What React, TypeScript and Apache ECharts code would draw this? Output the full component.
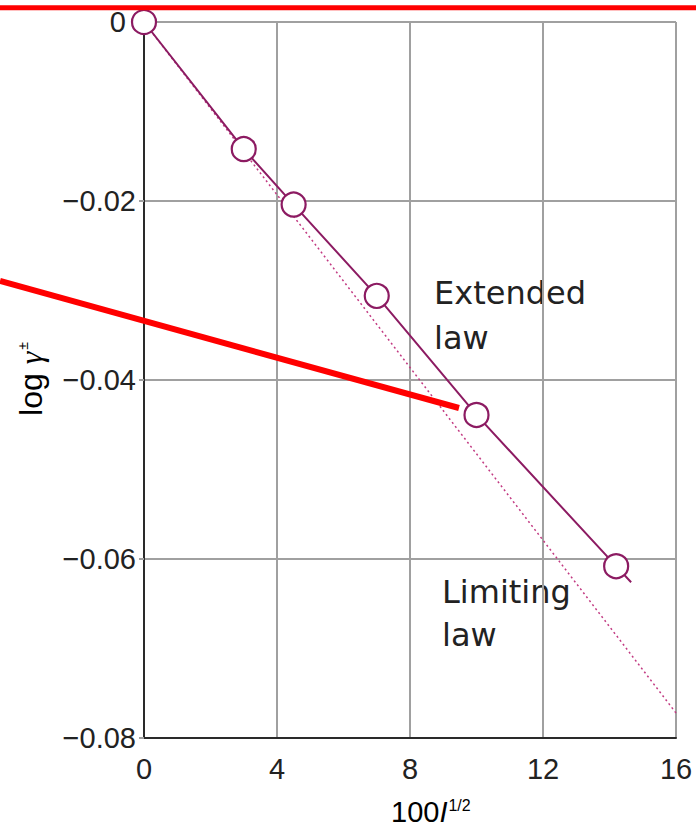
import React, { useEffect, useRef } from "react";
import * as echarts from "echarts";

// Data
const extendedX = [0, 3.0, 4.5, 7.0, 10.0, 14.2];
const extendedY = [0, -0.0142, -0.0204, -0.0306, -0.0439, -0.0608];
const extendedTail = [14.65, -0.0626];
const limitingX = [0, 16];
const limitingY = [0, -0.0772];
const xTicks = [0, 4, 8, 12, 16];
const yTicks = [0, -0.02, -0.04, -0.06, -0.08];

const PURPLE = "#8c1b62";
const PINK = "#c23a82";

export default function App() {
  const ref = useRef<HTMLDivElement>(null);
  useEffect(() => {
    if (!ref.current) return;
    const chart = echarts.init(ref.current, undefined, { renderer: "svg" });
    const extData: any[] = extendedX.map((x, i) => [x, extendedY[i]]);
    extData.push({ value: extendedTail, symbol: "none" });
    const option: any = {
      animation: false,
      backgroundColor: "#ffffff",
      grid: { left: 144, right: 20, top: 22, bottom: 89, containLabel: false },
      xAxis: {
        type: "value",
        min: xTicks[0],
        max: xTicks[xTicks.length - 1],
        interval: 4,
        axisLine: { show: true, onZero: false, lineStyle: { color: "#2a2a2a", width: 2 } },
        axisTick: { show: false },
        splitLine: { show: true, lineStyle: { color: "#a0a0a0", width: 2 } },
        axisLabel: {
          margin: 16,
          fontSize: 29,
          fontFamily: "Liberation Sans",
          color: "#222",
          formatter: (v: number) => String(v),
        },
      },
      yAxis: {
        type: "value",
        min: yTicks[yTicks.length - 1],
        max: yTicks[0],
        interval: 0.02,
        axisLine: { show: true, onZero: false, lineStyle: { color: "#2a2a2a", width: 2 } },
        axisTick: { show: true, length: 5, lineStyle: { color: "#a0a0a0", width: 2 } },
        splitLine: { show: true, lineStyle: { color: "#a0a0a0", width: 2 } },
        axisLabel: {
          margin: 8,
          fontSize: 29,
          fontFamily: "Liberation Sans",
          color: "#222",
          formatter: (v: number) =>
            Math.abs(v) < 1e-9 ? "{z|0}" : "\u2212" + Math.abs(v).toFixed(2),
          rich: {
            z: { fontSize: 29, fontFamily: "Liberation Sans", color: "#222", padding: [0, 10, 0, 0] },
          },
        },
      },
      series: [
        {
          name: "Limiting law",
          type: "line",
          data: limitingX.map((x, i) => [x, limitingY[i]]),
          symbol: "none",
          lineStyle: { color: PINK, width: 1.5, type: [2, 3] },
          z: 1,
        },
        {
          name: "Extended law",
          type: "line",
          data: extData,
          symbol: "circle",
          symbolSize: 24,
          showSymbol: true,
          lineStyle: { color: PURPLE, width: 2 },
          itemStyle: { color: "#ffffff", borderColor: PURPLE, borderWidth: 2.2 },
          z: 2,
        },
      ],
      graphic: [
        {
          type: "text",
          x: 434,
          y: 293,
          style: { text: "Extended", font: "32px 'DejaVu Sans'", fill: "#222", verticalAlign: "middle" },
        },
        {
          type: "text",
          x: 434,
          y: 338,
          style: { text: "law", font: "32px 'DejaVu Sans'", fill: "#222", verticalAlign: "middle" },
        },
        {
          type: "text",
          x: 442,
          y: 592,
          style: { text: "Limiting", font: "32px 'DejaVu Sans'", fill: "#222", verticalAlign: "middle" },
        },
        {
          type: "text",
          x: 442,
          y: 635,
          style: { text: "law", font: "32px 'DejaVu Sans'", fill: "#222", verticalAlign: "middle" },
        },
        {
          type: "text",
          x: 391,
          y: 812,
          style: {
            text: "{n|100}{i|I}{s|1/2}",
            verticalAlign: "middle",
            rich: {
              n: { fontSize: 29, fontFamily: "Liberation Sans", color: "#222", lineHeight: 30 },
              i: { fontSize: 29, fontFamily: "Liberation Sans", fontStyle: "italic", color: "#222", lineHeight: 30 },
              s: { fontSize: 16, fontFamily: "Liberation Sans", color: "#222", verticalAlign: "top", lineHeight: 30, padding: [0, 0, 14, 1] },
            },
          },
        },
        {
          type: "text",
          x: 31,
          y: 379,
          rotation: Math.PI / 2,
          style: {
            text: "{l|log }{g|γ}{s|±}",
            align: "center",
            verticalAlign: "middle",
            rich: {
              l: { fontSize: 32, fontFamily: "Liberation Sans", color: "#222", lineHeight: 34 },
              g: { fontSize: 32, fontFamily: "Liberation Serif", fontStyle: "italic", color: "#222", lineHeight: 34 },
              s: { fontSize: 14, fontFamily: "Liberation Sans", color: "#222", verticalAlign: "top", lineHeight: 34, padding: [2, 0, 0, 2] },
            },
          },
        },
        {
          type: "line",
          z: 100,
          shape: { x1: 0, y1: 7.7, x2: 696, y2: 7.7 },
          style: { stroke: "#ff0000", lineWidth: 5 },
        },
        {
          type: "line",
          z: 100,
          shape: { x1: 0, y1: 281, x2: 459, y2: 408 },
          style: { stroke: "#ff0000", lineWidth: 6 },
        },
      ],
    };
    chart.setOption(option);
    return () => chart.dispose();
  }, []);
  return (
    <div
      ref={ref}
      style={{ position: "absolute", left: 0, top: 0, width: 696, height: 827 }}
    />
  );
}
